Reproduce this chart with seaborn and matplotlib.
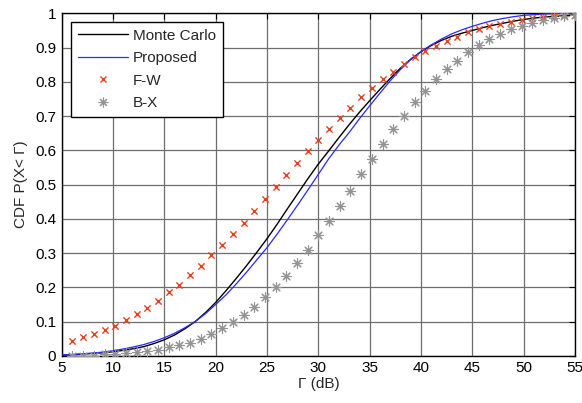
import numpy as np
import pandas as pd
import matplotlib
matplotlib.use("Agg")
import matplotlib.pyplot as plt
import seaborn as sns
from matplotlib.lines import Line2D

# ---- data ----
gamma_line = [5, 6, 7, 8, 9, 10, 11, 12, 13, 14, 15, 16, 17, 18, 19, 20, 21, 22, 23, 24, 25,
              26, 27, 28, 29, 30, 31, 32, 33, 34, 35, 36, 37, 38, 39, 40, 41, 42, 43, 44, 45,
              46, 47, 48, 49, 50, 51, 52, 53, 54, 55]
monte_carlo = [0.002, 0.003, 0.005, 0.007, 0.009, 0.012, 0.016, 0.021, 0.027, 0.036, 0.047,
               0.061, 0.079, 0.100, 0.126, 0.156, 0.190, 0.226, 0.263, 0.302, 0.342,
               0.385, 0.430, 0.474, 0.518, 0.560, 0.598, 0.637, 0.675, 0.711, 0.745,
               0.778, 0.810, 0.840, 0.866, 0.888, 0.906, 0.921, 0.933, 0.942, 0.950,
               0.958, 0.965, 0.971, 0.977, 0.982, 0.986, 0.989, 0.991, 0.993, 0.995]
proposed = [0.003, 0.004, 0.006, 0.008, 0.011, 0.015, 0.020, 0.026, 0.033, 0.042, 0.053,
            0.066, 0.082, 0.100, 0.123, 0.150, 0.178, 0.210, 0.244, 0.280, 0.316,
            0.356, 0.398, 0.441, 0.485, 0.530, 0.575, 0.615, 0.652, 0.692, 0.730,
            0.767, 0.803, 0.836, 0.865, 0.888, 0.908, 0.925, 0.940, 0.952, 0.962,
            0.971, 0.979, 0.985, 0.990, 0.994, 0.996, 0.998, 0.999, 1.000, 1.000]

gamma_marker = [6.04, 7.08, 8.13, 9.17, 10.21, 11.25, 12.29, 13.33, 14.38, 15.42, 16.46, 17.50,
                18.54, 19.58, 20.63, 21.67, 22.71, 23.75, 24.79, 25.83, 26.88, 27.92, 28.96, 30.00,
                31.04, 32.08, 33.13, 34.17, 35.21, 36.25, 37.29, 38.33, 39.38, 40.42, 41.46, 42.50,
                43.54, 44.58, 45.63, 46.67, 47.71, 48.75, 49.79, 50.83, 51.88, 52.92, 53.96, 55.00]
fw = [0.044, 0.054, 0.064, 0.075, 0.088, 0.105, 0.122, 0.140, 0.160, 0.185, 0.208, 0.236,
      0.263, 0.294, 0.324, 0.355, 0.388, 0.422, 0.457, 0.492, 0.529, 0.564, 0.598, 0.630,
      0.661, 0.695, 0.724, 0.756, 0.783, 0.807, 0.830, 0.852, 0.872, 0.889, 0.904, 0.918,
      0.932, 0.944, 0.954, 0.962, 0.970, 0.976, 0.981, 0.985, 0.989, 0.992, 0.994, 0.996]
bx = [0.000, 0.000, 0.001, 0.004, 0.006, 0.009, 0.012, 0.015, 0.018, 0.025, 0.031, 0.037,
      0.050, 0.063, 0.080, 0.099, 0.119, 0.143, 0.171, 0.201, 0.234, 0.271, 0.309, 0.352,
      0.393, 0.437, 0.482, 0.531, 0.576, 0.619, 0.661, 0.700, 0.740, 0.774, 0.807, 0.837,
      0.861, 0.886, 0.907, 0.924, 0.941, 0.953, 0.963, 0.972, 0.980, 0.986, 0.991, 0.995]

x_ticks = [5, 10, 15, 20, 25, 30, 35, 40, 45, 50, 55]
y_ticks = [0, 0.1, 0.2, 0.3, 0.4, 0.5, 0.6, 0.7, 0.8, 0.9, 1]

# ---- plot ----
sns.set_style("white")
plt.rcParams['font.family'] = ['Liberation Sans', 'DejaVu Sans']

fig = plt.figure(figsize=(5.82, 4.03), dpi=100)
ax = fig.add_axes([0.106, 0.117, 0.882, 0.850])

grid_col = '#6e6e6e'
for xv in x_ticks:
    ax.axvline(xv, color=grid_col, lw=0.9, zorder=0)
for yv in y_ticks:
    ax.axhline(yv, color=grid_col, lw=0.9, zorder=0)

lines_df = pd.DataFrame({'g': gamma_line, 'mc': monte_carlo, 'pr': proposed})
mk_df = pd.DataFrame({'g': gamma_marker, 'fw': fw, 'bx': bx})

sns.lineplot(data=lines_df, x='g', y='mc', color='black', lw=1.0, ax=ax, zorder=3)
sns.lineplot(data=lines_df, x='g', y='pr', color='#2828ff', lw=0.9, ax=ax, zorder=3)
sns.scatterplot(data=mk_df, x='g', y='fw', marker='x', color='#e8401c', s=20,
                linewidth=1.0, ax=ax, zorder=4)
sns.scatterplot(data=mk_df, x='g', y='bx', marker=(8, 2, 0), color='#939393', s=48,
                linewidth=0.8, ax=ax, zorder=4)

ax.set_xlim(5, 55)
ax.set_ylim(0, 1)
ax.set_xticks(x_ticks)
ax.set_yticks(y_ticks)
ax.set_yticklabels(['0', '0.1', '0.2', '0.3', '0.4', '0.5', '0.6', '0.7', '0.8', '0.9', '1'])
ax.tick_params(direction='in', length=4, width=0.8, top=True, right=True,
               labelsize=11, pad=4, colors='black')
for sp in ax.spines.values():
    sp.set_color('black')
    sp.set_linewidth(1.0)
    sp.set_visible(True)

ax.set_xlabel('Γ (dB)', fontsize=11, labelpad=1)
ax.set_ylabel('CDF P(X< Γ)', fontsize=11, labelpad=5)

handles = [
    Line2D([], [], color='black', lw=1.0),
    Line2D([], [], color='#2828ff', lw=0.9),
    Line2D([], [], color='#e8401c', marker='x', ls='', ms=4.5, mew=1.0),
    Line2D([], [], color='#939393', marker=(8, 2, 0), ls='', ms=7, mew=0.8),
]
leg = ax.legend(handles, ['Monte Carlo', 'Proposed', 'F-W', 'B-X'], loc='upper left',
                bbox_to_anchor=(0.018, 0.975), fontsize=11, frameon=True, fancybox=False,
                edgecolor='black', framealpha=1, borderpad=0.45, labelspacing=0.55,
                handlelength=3.3, handletextpad=0.3, borderaxespad=0)
leg.get_frame().set_linewidth(1.0)

fig.savefig('out.png', dpi=100)
